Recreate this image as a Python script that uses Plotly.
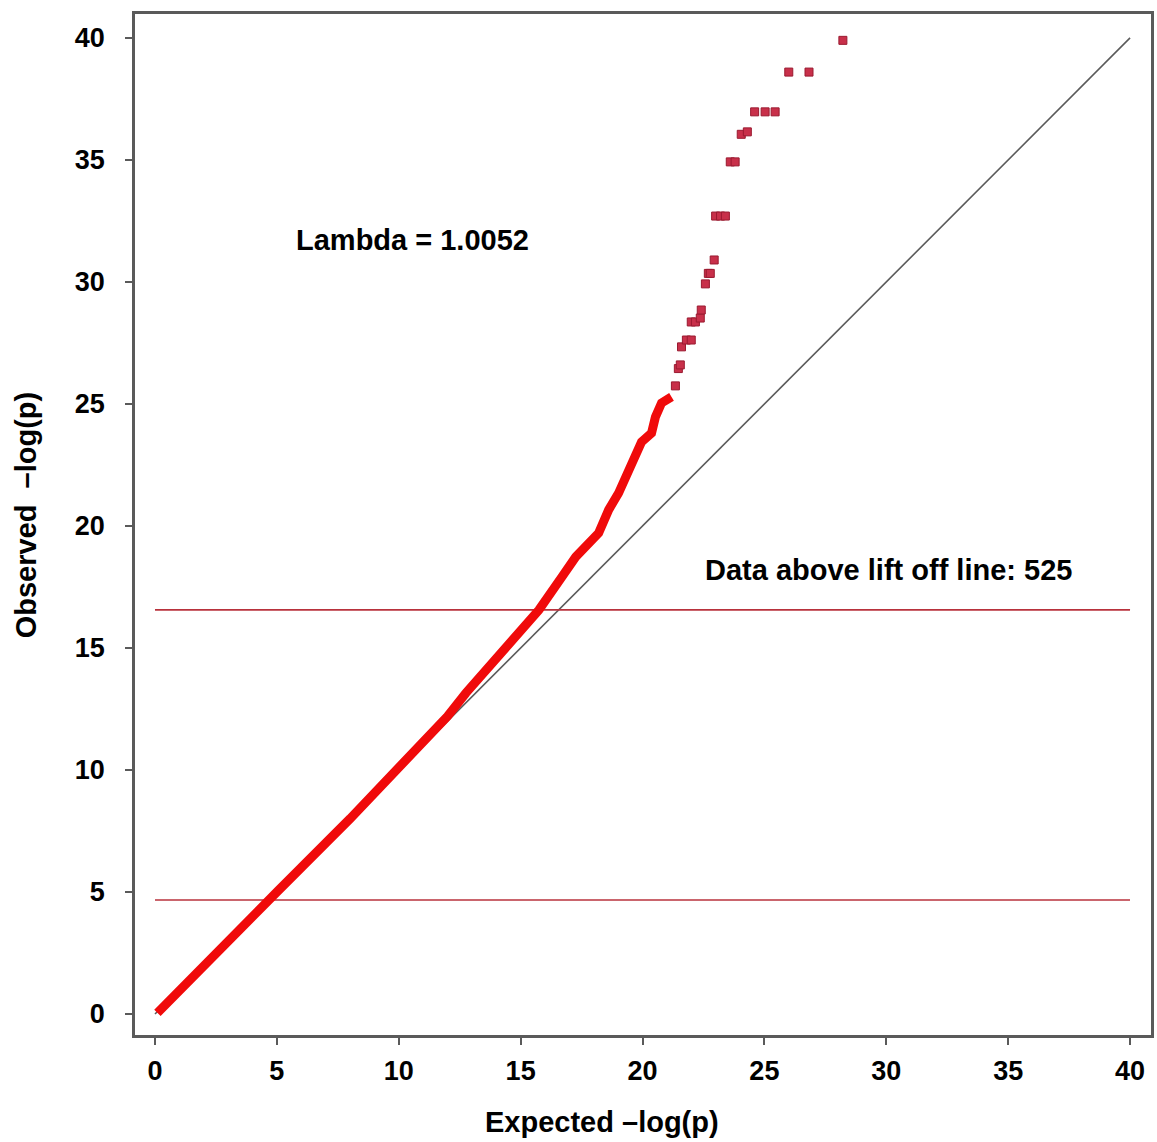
import plotly.graph_objects as go

# Dense part of the Q-Q curve
dense_x = [0.1, 2.0, 5.0, 8.0, 10.84, 12.0, 12.76, 13.6, 14.52, 15.2, 15.75, 16.69, 17.26,
           18.2, 18.61, 19.02, 19.55, 19.71, 19.96, 20.37, 20.53, 20.78, 21.19]
dense_y = [0.05, 2.0, 5.0, 8.0, 10.94, 12.2, 13.16, 14.1, 15.2, 15.9, 16.56, 17.91, 18.73,
           19.71, 20.66, 21.35, 22.42, 22.83, 23.44, 23.81, 24.47, 25.04, 25.29]

# Sparse upper points
sparse_x = [21.35, 21.47, 21.55, 21.6, 21.8, 22.0, 22.0, 22.17, 22.37, 22.41, 22.58, 22.7, 22.78,
            22.94, 23.0, 23.2, 23.4, 23.6, 23.8, 24.05, 24.3, 24.6, 25.03, 25.44, 26.0, 26.83, 28.22]
sparse_y = [25.74, 26.45, 26.6, 27.34, 27.62, 27.62, 28.36, 28.36, 28.52, 28.85, 29.92, 30.35, 30.35,
            30.9, 32.7, 32.7, 32.7, 34.92, 34.92, 36.05, 36.15, 36.97, 36.97, 36.97, 38.6, 38.6, 39.9]

diag = [0, 40]
hlines = [16.56, 4.67]
ticks = [0, 5, 10, 15, 20, 25, 30, 35, 40]

FONT = "Liberation Sans, Arial, sans-serif"

fig = go.Figure()
fig.add_trace(go.Scatter(x=diag, y=diag, mode="lines", line=dict(color="#5a5a5a", width=1.6),
                         hoverinfo="skip"))
for h in hlines:
    fig.add_trace(go.Scatter(x=diag, y=[h, h], mode="lines", line=dict(color="#b8323c", width=1.6),
                             hoverinfo="skip"))
fig.add_trace(go.Scatter(x=dense_x, y=dense_y, mode="lines",
                         line=dict(color="#f00a0a", width=9)))
fig.add_trace(go.Scatter(x=sparse_x, y=sparse_y, mode="markers",
                         marker=dict(symbol="square", size=8, color="#c8304a",
                                     line=dict(color="#9a1a30", width=1))))

fig.add_annotation(x=10.55, y=31.7, text="Lambda = 1.0052", showarrow=False,
                   font=dict(family=FONT, size=29, color="black", weight="bold"))
fig.add_annotation(x=30.1, y=18.2, text="Data above lift off line: 525", showarrow=False,
                   font=dict(family=FONT, size=29, color="black", weight="bold"))

# Axis titles (positions given in pixels, converted below)
fig.add_annotation(x=603, y=1122, xref="paper", yref="paper", text="Expected \u2013log(p)",
                   showarrow=False, xanchor="center", yanchor="middle",
                   font=dict(family=FONT, size=29, color="black", weight="bold"))
fig.add_annotation(x=26, y=515, xref="paper", yref="paper", text="Observed  \u2013log(p)",
                   textangle=-90, showarrow=False, xanchor="center", yanchor="middle",
                   font=dict(family=FONT, size=29, color="black", weight="bold"))

axis_common = dict(showgrid=False, zeroline=False, showline=True, linecolor="#5a5a5a",
                   linewidth=2.5, mirror=True, ticks="outside", ticklen=7, tickwidth=2,
                   tickcolor="#5a5a5a", tickvals=ticks,
                   tickfont=dict(family=FONT, size=27, color="black", weight="bold"))

fig.update_xaxes(range=[-0.82, 40.86], ticklabelstandoff=3, **axis_common)
fig.update_yaxes(range=[-0.86, 40.98], ticklabelstandoff=15, **axis_common)

L, R, T, B = 135, 3, 14, 107
W, H = 1157, 1142
fig.update_layout(width=W, height=H, showlegend=False,
                  margin=dict(l=L, r=R, t=T, b=B),
                  plot_bgcolor="white", paper_bgcolor="white")

for ann in fig.layout.annotations:
    if ann.xref == "paper":
        px, py = ann.x, ann.y
        ann.x = (px - L) / (W - L - R)
        ann.y = (H - B - py) / (H - T - B)

fig.write_html("out.html")
